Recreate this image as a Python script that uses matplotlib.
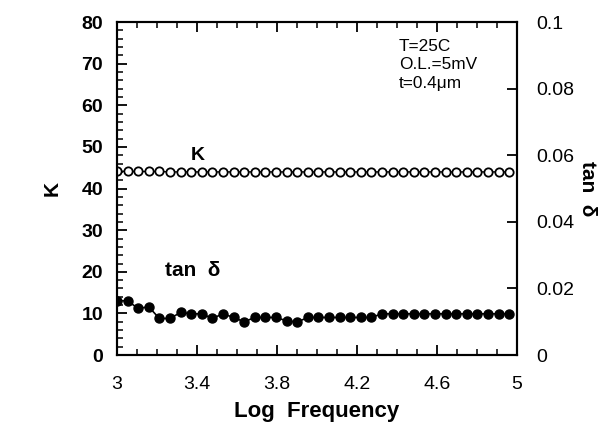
import matplotlib
matplotlib.use('Agg')
import matplotlib.pyplot as plt
import numpy as np
from matplotlib.ticker import MultipleLocator

plt.rcParams['font.family'] = ['Liberation Sans', 'DejaVu Sans']
plt.rcParams['font.size'] = 13

# log frequency points
log_freq = [3.00, 3.053, 3.106, 3.159, 3.212, 3.265, 3.318, 3.371, 3.424, 3.477,
            3.530, 3.583, 3.636, 3.689, 3.742, 3.795, 3.848, 3.901, 3.954, 4.007,
            4.060, 4.113, 4.166, 4.219, 4.272, 4.325, 4.378, 4.431, 4.484, 4.537,
            4.590, 4.643, 4.696, 4.749, 4.802, 4.855, 4.908, 4.961]
# dielectric constant K
k_values = [44.2, 44.1, 44.1, 44.1, 44.1, 44.0, 44.0, 44.0, 44.0, 44.0,
            44.0, 44.0, 44.0, 44.0, 44.0, 44.0, 44.0, 44.0, 44.0, 44.0,
            44.0, 44.0, 44.0, 44.0, 44.0, 44.0, 44.0, 44.0, 44.0, 44.0,
            44.0, 44.0, 44.0, 44.0, 44.0, 44.0, 44.0, 44.0]
# loss tangent
tan_d = [0.0163, 0.0163, 0.0140, 0.0145, 0.0110, 0.0110, 0.0128, 0.0124, 0.0124, 0.0110,
         0.0124, 0.0113, 0.0100, 0.0113, 0.0113, 0.0113, 0.0103, 0.0099, 0.0113, 0.0113,
         0.0113, 0.0113, 0.0113, 0.0113, 0.0113, 0.0124, 0.0124, 0.0124, 0.0124, 0.0124,
         0.0124, 0.0124, 0.0124, 0.0124, 0.0124, 0.0124, 0.0124, 0.0124]

fig = plt.figure(figsize=(6.06, 4.32), dpi=100)
ax = fig.add_axes([0.193, 0.178, 0.66, 0.771])
ax2 = ax.twinx()

ax.plot(log_freq, k_values, '-o', color='black', mfc='white', mec='black',
        ms=6, mew=1.3, lw=1)
ax2.plot(log_freq, tan_d, '-o', color='black', ms=6.5, lw=1.2)

ax.set_xlim(3, 5)
ax.set_ylim(0, 80)
ax2.set_ylim(0, 0.1)

ax.set_xticks([3, 3.4, 3.8, 4.2, 4.6, 5])
ax.set_xticklabels(['3', '3.4', '3.8', '4.2', '4.6', '5'])
ax.xaxis.set_minor_locator(MultipleLocator(0.1))
ax.yaxis.set_major_locator(MultipleLocator(10))
ax.yaxis.set_minor_locator(MultipleLocator(2))
ax2.set_yticks([0, 0.02, 0.04, 0.06, 0.08, 0.1])
ax2.set_yticklabels(['0', '0.02', '0.04', '0.06', '0.08', '0.1'])

ax.tick_params(axis='both', which='major', direction='in', length=7, width=1.3, top=True)
ax.tick_params(axis='both', which='minor', direction='in', length=4, width=1.1, top=True)
ax.tick_params(axis='x', pad=15, labelsize=14)
ax.tick_params(axis='y', pad=10, labelsize=14)
for lbl in ax.get_yticklabels():
    lbl.set_fontweight('bold')
ax2.tick_params(axis='y', which='major', direction='in', length=7, width=1.3, labelsize=14, pad=14)

for a in (ax, ax2):
    for s in a.spines.values():
        s.set_linewidth(1.5)

ax.set_xlabel('Log  Frequency', fontsize=16, fontweight='bold', labelpad=6)
ax.set_ylabel('K', fontsize=15, fontweight='bold', rotation=90, labelpad=14)
ax2.set_ylabel('tan  δ', fontsize=15, fontweight='bold', rotation=270, labelpad=16)

ax.text(3.37, 48, 'K', fontsize=14, fontweight='bold', va='center')
ax.text(3.24, 20.4, 'tan  δ', fontsize=15, fontweight='bold', va='center')
ax.text(4.41, 76, 'T=25C\nO.L.=5mV\nt=0.4μm', fontsize=12.4, linespacing=1.3, va='top')

fig.savefig('out.png', dpi=100)
